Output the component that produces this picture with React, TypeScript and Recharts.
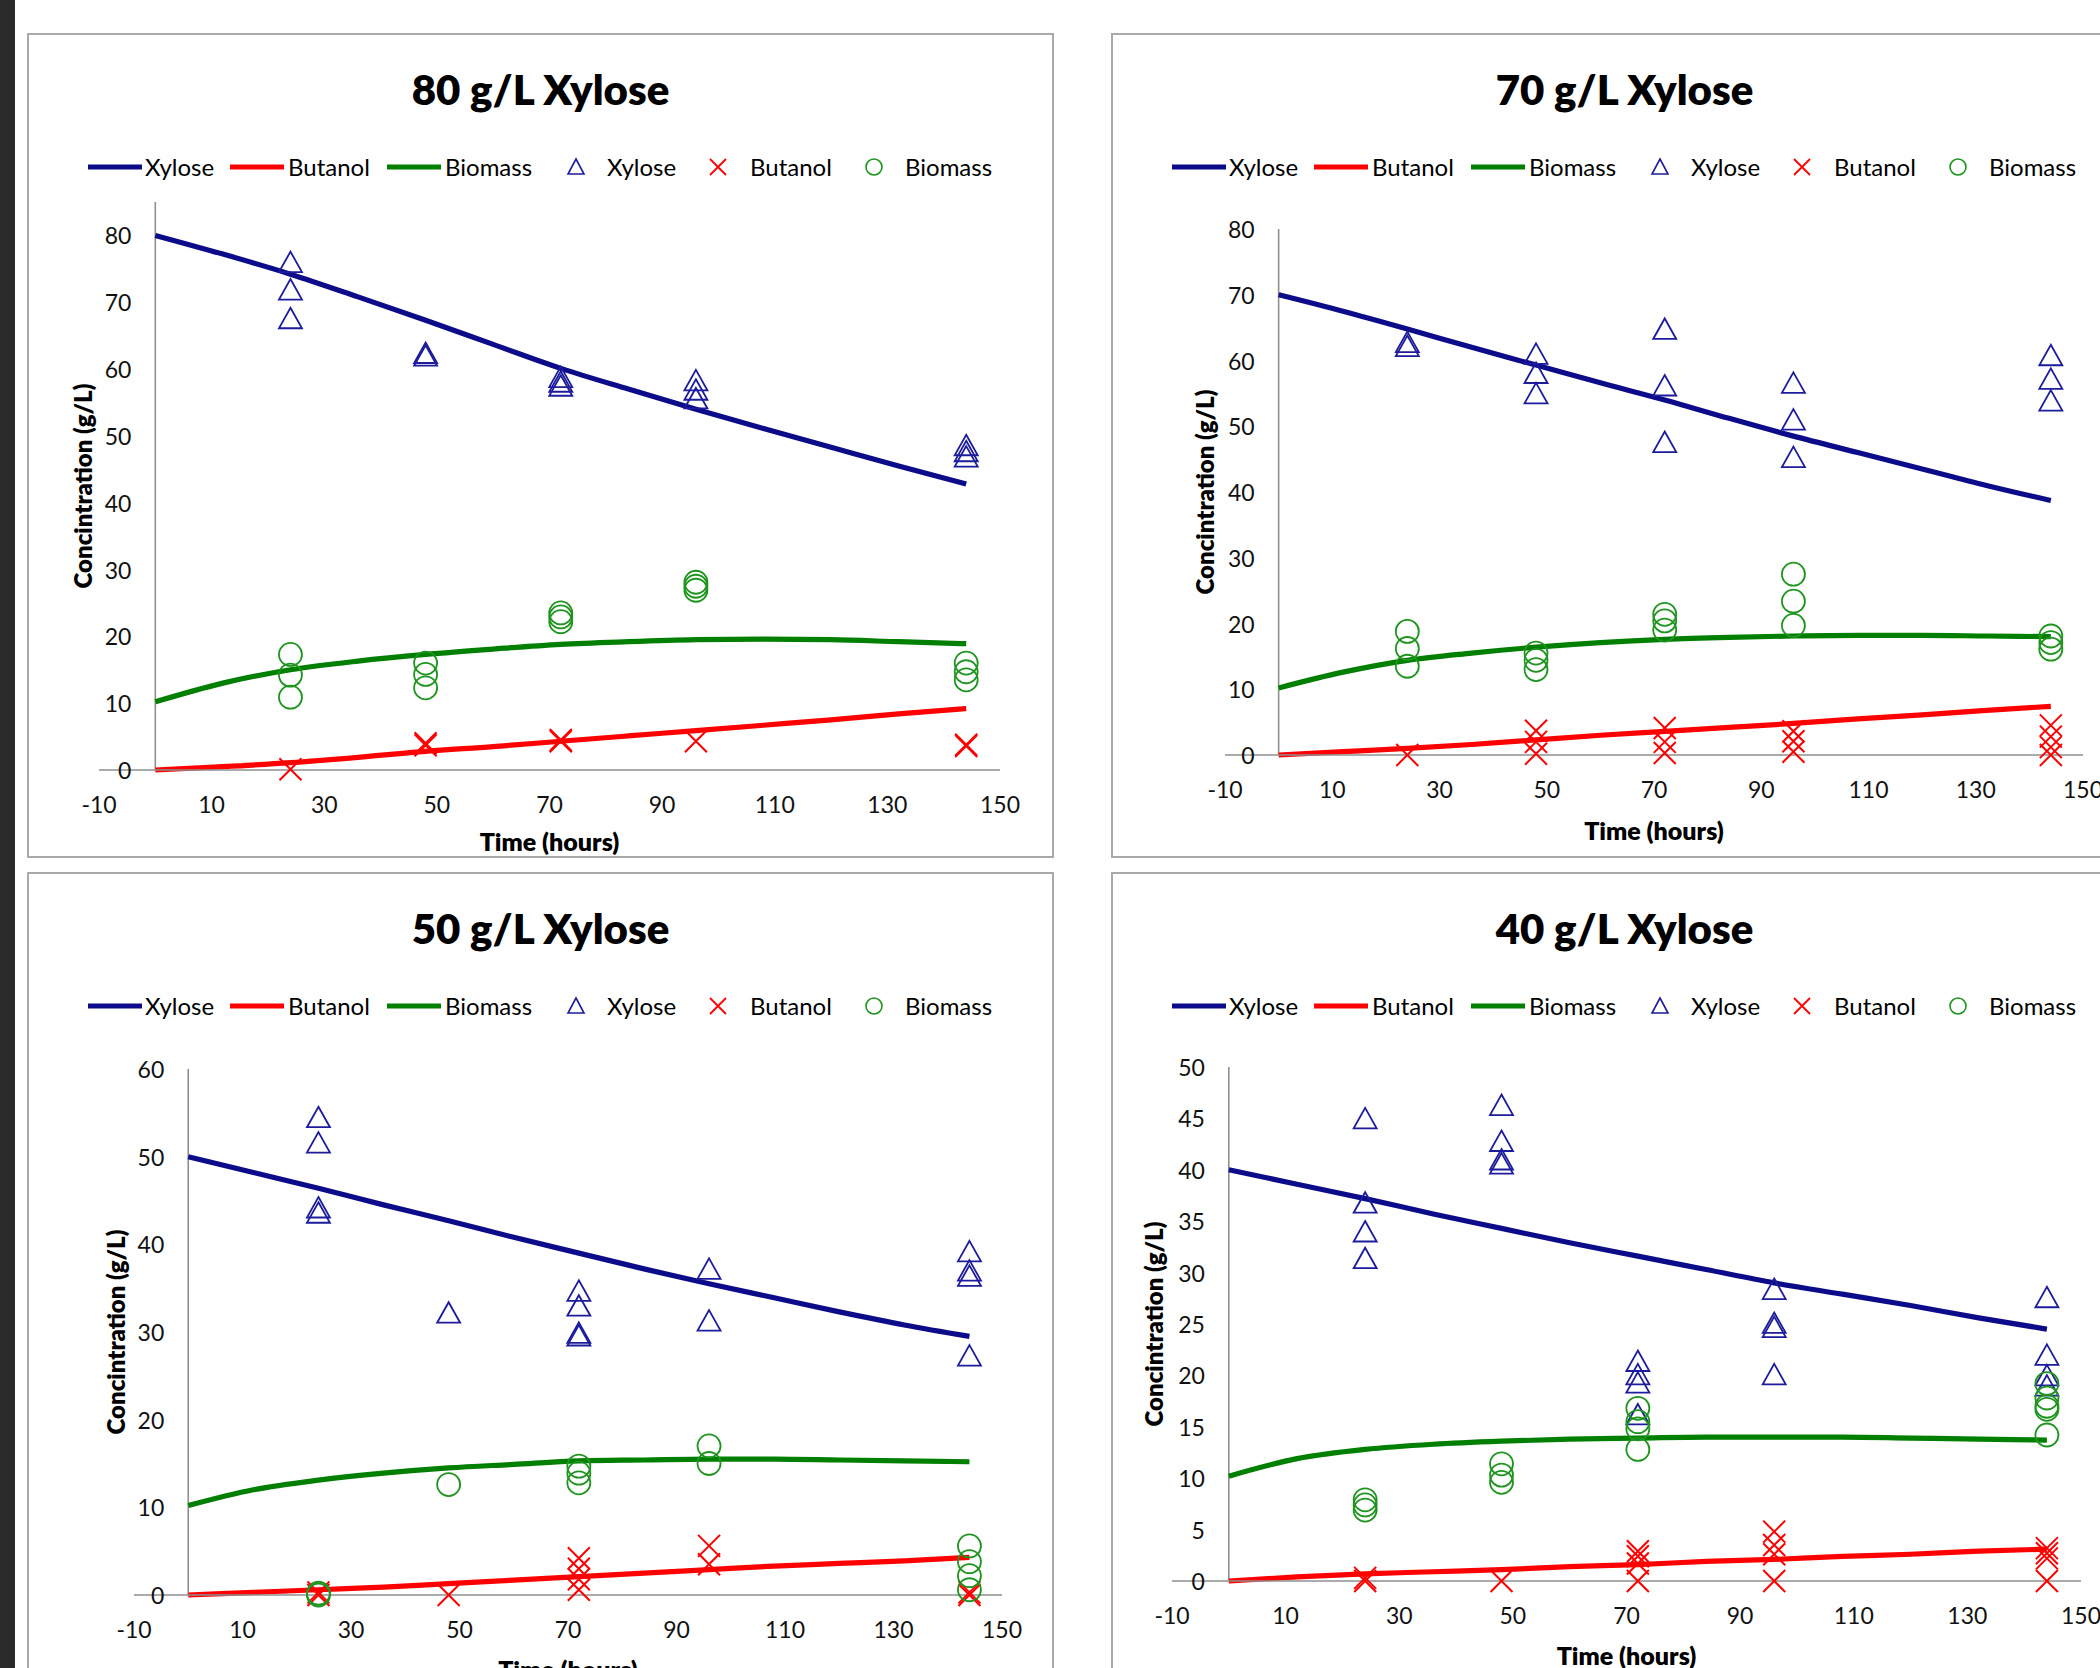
import React from "react";
import { ComposedChart, Line, Scatter, XAxis, YAxis, ReferenceLine } from "recharts";

const FONT = "Lato, 'Open Sans', sans-serif";
const NAVY = "#0c0c8a";
const RED = "#ff0000";
const GREEN = "#007f00";
const TRI = "#1c1c9c";
const CIRC = "#1f951f";
const AXIS = "#8f8f8f";

const SERIES = ["Xylose", "Butanol", "Biomass"];
const X_TICKS = [-10, 10, 30, 50, 70, 90, 110, 130, 150];
const MODEL_T = [0, 12, 24, 36, 48, 60, 72, 84, 96, 108, 120, 132, 144];

// 80 g/L
const xyl80Model = [80, 77.2, 74.2, 70.8, 67.3, 63.7, 60.1, 57.0, 54.0, 51.1, 48.3, 45.5, 42.8];
const but80Model = [0, 0.5, 1.1, 1.9, 2.8, 3.5, 4.3, 5.1, 5.9, 6.7, 7.5, 8.4, 9.2];
const bio80Model = [10.2, 13.0, 15.0, 16.3, 17.3, 18.1, 18.8, 19.2, 19.5, 19.6, 19.5, 19.2, 18.9];
const xyl80Pts = [[24, 76], [24, 71.9], [24, 67.6], [48, 62.4], [48, 62.0], [72, 58.8], [72, 58.1], [72, 57.5], [96, 58.3], [96, 56.9], [96, 55.6], [144, 48.6], [144, 47.7], [144, 46.9]];
const but80Pts = [[24, 0.1], [48, 4.0], [48, 3.7], [72, 4.5], [72, 4.3], [96, 4.3], [144, 3.8], [144, 3.6]];
const bio80Pts = [[24, 17.3], [24, 14.2], [24, 10.9], [48, 16.0], [48, 14.3], [48, 12.3], [72, 23.5], [72, 22.9], [72, 22.2], [96, 28.1], [96, 27.5], [96, 26.9], [144, 16.0], [144, 14.7], [144, 13.5]];

// 70 g/L
const xyl70Model = [70, 67.5, 64.8, 62.0, 59.3, 56.6, 54.0, 51.2, 48.5, 46.0, 43.5, 41.0, 38.7];
const but70Model = [0, 0.5, 1.0, 1.6, 2.3, 3.0, 3.6, 4.2, 4.8, 5.5, 6.1, 6.8, 7.4];
const bio70Model = [10.2, 12.6, 14.4, 15.5, 16.4, 17.1, 17.6, 17.9, 18.1, 18.2, 18.2, 18.1, 18.0];
const xyl70Pts = [[24, 62.8], [24, 62.2], [48, 61.0], [48, 58.1], [48, 55.0], [72, 64.8], [72, 56.2], [72, 47.6], [96, 56.6], [96, 51.0], [96, 45.3], [144, 60.8], [144, 57.2], [144, 53.9]];
const but70Pts = [[24, 0], [48, 3.7], [48, 2.0], [48, 0.2], [72, 4.1], [72, 2.0], [72, 0.3], [96, 3.6], [96, 2.1], [96, 0.5], [144, 4.5], [144, 2.8], [144, 1.2], [144, 0]];
const bio70Pts = [[24, 18.8], [24, 16.2], [24, 13.5], [48, 15.5], [48, 14.4], [48, 13.0], [72, 21.4], [72, 20.4], [72, 19.0], [96, 27.5], [96, 23.4], [96, 19.7], [144, 18.1], [144, 17.1], [144, 16.1]];

// 50 g/L
const xyl50Model = [50, 48.2, 46.4, 44.5, 42.7, 40.8, 39.0, 37.2, 35.5, 33.9, 32.3, 30.8, 29.5];
const but50Model = [0, 0.3, 0.6, 0.9, 1.3, 1.7, 2.1, 2.5, 2.9, 3.3, 3.6, 3.9, 4.3];
const bio50Model = [10.2, 12.0, 13.1, 13.9, 14.5, 14.9, 15.3, 15.4, 15.5, 15.5, 15.4, 15.3, 15.2];
const xyl50Pts = [[24, 54.5], [24, 51.6], [24, 44.2], [24, 43.6], [48, 32.2], [72, 34.7], [72, 33.0], [72, 29.9], [72, 29.6], [96, 37.2], [96, 31.3], [144, 39.2], [144, 37.0], [144, 36.4], [144, 27.3]];
const but50Pts = [[24, 0.3], [24, 0], [48, 0], [72, 4.2], [72, 3.0], [72, 1.8], [72, 0.6], [96, 5.6], [96, 3.5], [144, 0.3], [144, 0]];
const bio50Pts = [[24, 0.2], [24, 0], [48, 12.6], [72, 14.7], [72, 13.9], [72, 12.8], [96, 17.0], [96, 15.0], [144, 5.6], [144, 3.8], [144, 2.2], [144, 0.6]];

// 40 g/L
const xyl40Model = [40, 38.6, 37.2, 35.7, 34.3, 32.9, 31.6, 30.3, 29.0, 27.9, 26.8, 25.6, 24.5];
const but40Model = [0, 0.4, 0.7, 0.9, 1.1, 1.4, 1.6, 1.9, 2.1, 2.4, 2.6, 2.9, 3.1];
const bio40Model = [10.2, 11.9, 12.8, 13.3, 13.6, 13.8, 13.9, 14.0, 14.0, 14.0, 13.9, 13.8, 13.7];
const xyl40Pts = [[24, 45.0], [24, 36.8], [24, 34.0], [24, 31.4], [48, 46.3], [48, 42.8], [48, 41.0], [48, 40.6], [72, 21.4], [72, 20.1], [72, 19.3], [72, 16.2], [96, 28.4], [96, 25.1], [96, 24.7], [96, 20.1], [144, 27.6], [144, 22.0], [144, 20.0], [144, 19.0]];
const but40Pts = [[24, 0.3], [24, 0], [48, 0], [72, 2.9], [72, 2.4], [72, 1.7], [72, 0], [96, 4.8], [96, 3.5], [96, 2.6], [96, 0], [144, 3.2], [144, 2.7], [144, 2.2], [144, 0]];
const bio40Pts = [[24, 7.9], [24, 7.4], [24, 6.9], [48, 11.4], [48, 10.3], [48, 9.6], [72, 16.8], [72, 15.5], [72, 14.8], [72, 12.8], [144, 19.2], [144, 17.8], [144, 17.0], [144, 16.7], [144, 14.2]];

const TICKS_80 = [0, 10, 20, 30, 40, 50, 60, 70, 80];
const TICKS_60 = [0, 10, 20, 30, 40, 50, 60];
const TICKS_50 = [0, 5, 10, 15, 20, 25, 30, 35, 40, 45, 50];

const model = (xyl: number[], but: number[], bio: number[]) =>
  MODEL_T.map((t, i) => ({ t, xylose: xyl[i], butanol: but[i], biomass: bio[i] }));
const pts = (arr: number[][]) => arr.map(([t, v]) => ({ t, v }));

const PANELS = [
  {
    title: "80 g/L Xylose", box: { x: 27, y: 33 }, plot: { l: 99, r: 1000, t: 202, b: 770 },
    yMax: 85, yTicks: TICKS_80, yTitle: { x: 83, y: 486 }, xTitleY: 841,
    data: model(xyl80Model, but80Model, bio80Model), obs: [xyl80Pts, but80Pts, bio80Pts],
  },
  {
    title: "70 g/L Xylose", box: { x: 1111, y: 33 }, plot: { l: 1225, r: 2083, t: 229, b: 755 },
    yMax: 80, yTicks: TICKS_80, yTitle: { x: 1205, y: 492 }, xTitleY: 830,
    data: model(xyl70Model, but70Model, bio70Model), obs: [xyl70Pts, but70Pts, bio70Pts],
  },
  {
    title: "50 g/L Xylose", box: { x: 27, y: 872 }, plot: { l: 134, r: 1002, t: 1069, b: 1595 },
    yMax: 60, yTicks: TICKS_60, yTitle: { x: 116, y: 1332 }, xTitleY: 1669,
    data: model(xyl50Model, but50Model, bio50Model), obs: [xyl50Pts, but50Pts, bio50Pts],
  },
  {
    title: "40 g/L Xylose", box: { x: 1111, y: 872 }, plot: { l: 1172, r: 2081, t: 1067, b: 1581 },
    yMax: 50, yTicks: TICKS_50, yTitle: { x: 1154, y: 1324 }, xTitleY: 1655,
    data: model(xyl40Model, but40Model, bio40Model), obs: [xyl40Pts, but40Pts, bio40Pts],
  },
];

const PW = 1027;
const PH = 825;

const Tri = (p: any) => (
  <path d={`M${p.cx},${p.cy - 10.5}L${p.cx + 11.5},${p.cy + 10}L${p.cx - 11.5},${p.cy + 10}Z`}
    fill="none" stroke={TRI} strokeWidth={1.8} />
);
const Cross = (p: any) => (
  <path d={`M${p.cx - 11},${p.cy - 11}L${p.cx + 11},${p.cy + 11}M${p.cx + 11},${p.cy - 11}L${p.cx - 11},${p.cy + 11}`}
    stroke={RED} strokeWidth={2} fill="none" />
);
const Ring = (p: any) => <circle cx={p.cx} cy={p.cy} r={11.5} fill="none" stroke={CIRC} strokeWidth={1.8} />;

function LegendIcon({ kind, color }: { kind: string; color: string }) {
  if (kind === "line") return <svg width={54} height={10}><line x1={0} y1={5} x2={54} y2={5} stroke={color} strokeWidth={5} /></svg>;
  if (kind === "tri") return <svg width={20} height={20}><path d="M10,2L18,17L2,17Z" fill="none" stroke={TRI} strokeWidth={1.6} /></svg>;
  if (kind === "x") return <svg width={20} height={20}><path d="M2,2L18,18M18,2L2,18" stroke={RED} strokeWidth={1.8} /></svg>;
  return <svg width={20} height={20}><circle cx={10} cy={10} r={8} fill="none" stroke={CIRC} strokeWidth={1.6} /></svg>;
}

const LEGEND = [
  { kind: "line", color: NAVY, x: 61, tx: 118, label: SERIES[0] },
  { kind: "line", color: RED, x: 203, tx: 261, label: SERIES[1] },
  { kind: "line", color: GREEN, x: 360, tx: 418, label: SERIES[2] },
  { kind: "tri", color: TRI, x: 539, tx: 580, label: SERIES[0] },
  { kind: "x", color: RED, x: 681, tx: 723, label: SERIES[1] },
  { kind: "circle", color: CIRC, x: 837, tx: 878, label: SERIES[2] },
];

function Panel({ cfg }: { cfg: any }) {
  const { box, plot } = cfg;
  const x0 = plot.l - box.x + ((plot.r - plot.l) * 10) / 160;
  const legendY = box.y + 134;
  return (
    <>
      <div style={{ position: "absolute", left: box.x, top: box.y, width: PW, height: PH, border: "2px solid #a9a9a9", boxSizing: "border-box" }} />
      <div style={{ position: "absolute", left: box.x, top: box.y, width: PW, height: PH }}>
        <ComposedChart width={PW} height={PH} data={cfg.data}
          margin={{ top: plot.t - box.y, right: box.x + PW - plot.r, left: 0, bottom: 0 }}>
          <XAxis type="number" dataKey="t" domain={[-10, 150]} ticks={X_TICKS} interval={0}
            height={box.y + PH - plot.b} tickSize={0} tickMargin={0}
            axisLine={{ stroke: AXIS, strokeWidth: 1.6 }} tickLine={false}
            tick={(p: any) => (
              <text x={p.x} y={p.y + 34} textAnchor="middle" dominantBaseline="central" fontSize={23} fontFamily={FONT} fill="#111">{p.payload.value}</text>
            )} />
          <YAxis type="number" domain={[0, cfg.yMax]} ticks={cfg.yTicks} interval={0}
            width={plot.l - box.x} tickSize={0} tickMargin={0} axisLine={false} tickLine={false}
            tick={(p: any) => (
              <text x={x0 - 24} y={p.y} textAnchor="end" dominantBaseline="central" fontSize={23} fontFamily={FONT} fill="#111">{p.payload.value}</text>
            )} />
          <ReferenceLine x={0} stroke={AXIS} strokeWidth={1.6} />
          <Line type="monotone" dataKey="xylose" stroke={NAVY} strokeWidth={5.2} dot={false} isAnimationActive={false} />
          <Line type="monotone" dataKey="butanol" stroke={RED} strokeWidth={5.2} dot={false} isAnimationActive={false} />
          <Line type="monotone" dataKey="biomass" stroke={GREEN} strokeWidth={5.2} dot={false} isAnimationActive={false} />
          <Scatter data={pts(cfg.obs[0])} dataKey="v" shape={Tri} isAnimationActive={false} />
          <Scatter data={pts(cfg.obs[1])} dataKey="v" shape={Cross} isAnimationActive={false} />
          <Scatter data={pts(cfg.obs[2])} dataKey="v" shape={Ring} isAnimationActive={false} />
        </ComposedChart>
      </div>
      <div style={{ position: "absolute", left: box.x, width: PW, top: box.y + 56, transform: "translateY(-50%)", textAlign: "center", fontFamily: FONT, fontWeight: 800, fontSize: 42, lineHeight: 1 }}>
        {cfg.title}
      </div>
      {LEGEND.map((it, i) => (
        <React.Fragment key={i}>
          <div style={{ position: "absolute", left: box.x + it.x, top: legendY, transform: "translateY(-50%)", lineHeight: 0 }}>
            <LegendIcon kind={it.kind} color={it.color} />
          </div>
          <div style={{ position: "absolute", left: box.x + it.tx, top: legendY, transform: "translateY(-50%)", fontFamily: FONT, fontSize: 24, lineHeight: 1, whiteSpace: "nowrap" }}>
            {it.label}
          </div>
        </React.Fragment>
      ))}
      <div style={{ position: "absolute", left: cfg.yTitle.x, top: cfg.yTitle.y, transform: "translate(-50%, -50%) rotate(-90deg)", fontFamily: FONT, fontWeight: 800, fontSize: 24, whiteSpace: "nowrap", lineHeight: 1 }}>
        Concintration (g/L)
      </div>
      <div style={{ position: "absolute", left: (plot.l + plot.r) / 2, top: cfg.xTitleY, transform: "translate(-50%, -50%)", fontFamily: FONT, fontWeight: 800, fontSize: 25, whiteSpace: "nowrap", lineHeight: 1 }}>
        Time (hours)
      </div>
    </>
  );
}

export default function App() {
  return (
    <div style={{ position: "absolute", left: 0, top: 0, width: 2100, height: 1668, overflow: "hidden", background: "#fff" }}>
      <div style={{ position: "absolute", left: 0, top: 0, width: 15, height: 1668, background: "#2a2a2a" }} />
      {PANELS.map((p, i) => <Panel key={i} cfg={p} />)}
    </div>
  );
}
